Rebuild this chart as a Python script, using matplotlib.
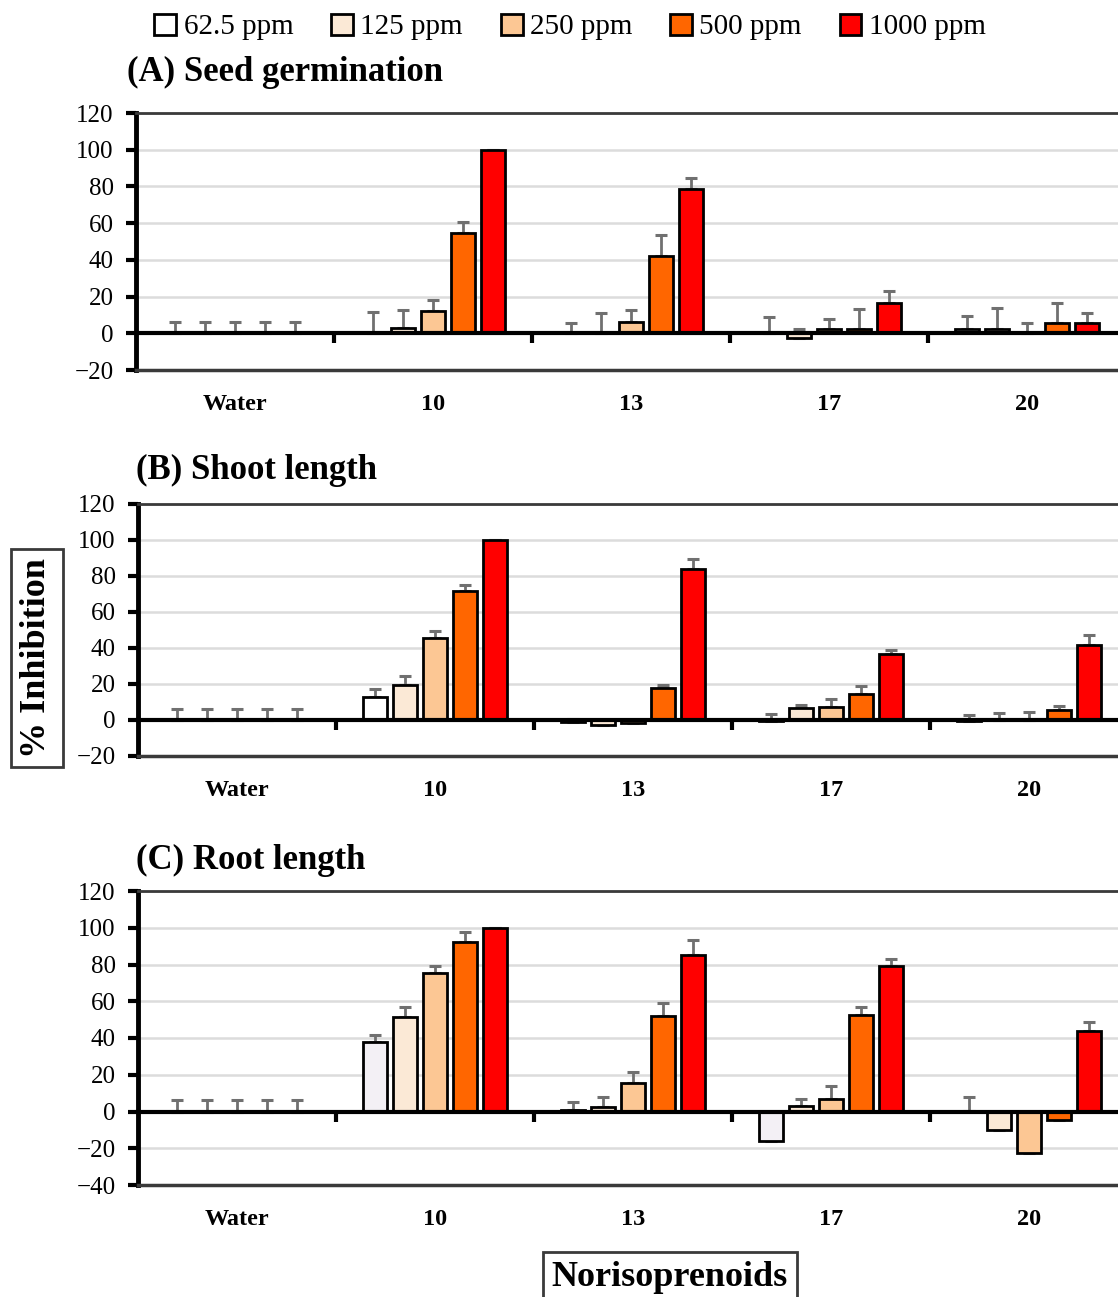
import numpy as np
import matplotlib.pyplot as plt
from matplotlib.transforms import blended_transform_factory

plt.rcParams['font.family'] = ['Liberation Serif', 'DejaVu Serif']

# data
groups = ['Water', '10', '13', '17', '20']
concs = ['62.5 ppm', '125 ppm', '250 ppm', '500 ppm', '1000 ppm']
colors = ['#ffffff', '#fbe9d6', '#fcc794', '#ff6600', '#ff0000']

# rows = concentration, cols = groups
seed_mean = [[0, 0, 0, 0, 2.4],
             [0, 3, 0, -2.5, 2.4],
             [0, 12, 6, 2.4, 0],
             [0, 54.5, 42.3, 2.4, 5.5],
             [0, 100, 78.8, 16.4, 5.5]]
seed_err = [[6, 11.5, 5.8, 8.6, 7],
            [6, 9.5, 11.3, 4.7, 11.6],
            [6, 6, 6.8, 5.5, 5.5],
            [6, 6, 11.3, 10.7, 11],
            [6, 0, 5.9, 6.4, 5.8]]

shoot_mean = [[0, 13, -1, -0.5, -0.8],
              [0, 19.5, -2.5, 6.4, 0],
              [0, 45.6, -1.8, 7.1, 0],
              [0, 71.6, 18, 14.6, 5.6],
              [0, 100, 83.7, 36.6, 41.7]]
shoot_err = [[6, 4, 1.5, 3.9, 3.5],
             [6, 5, 0.5, 2, 3.9],
             [6, 4, 0.5, 4.5, 4.5],
             [6, 3.2, 1.3, 4.1, 2.3],
             [6, 0, 5.8, 2.4, 5.4]]

root_mean = [[0, 38, 0.9, -16.1, 0.5],
             [0, 51.2, 2.6, 2.9, -10.2],
             [0, 75.3, 15.7, 6.9, -22.5],
             [0, 92.1, 51.9, 52.3, -4.8],
             [0, 100, 85.2, 79, 43.7]]
root_err = [[6, 3.9, 4, 5.1, 7.4],
            [6, 5.5, 5.1, 3.7, 5.8],
            [6, 3.7, 5.9, 6.8, 2.4],
            [6, 5.7, 7, 4.6, 2.8],
            [6, 0, 8.2, 3.8, 4.9]]

W, H = 1118, 1297
fig = plt.figure(figsize=(W / 100, H / 100), dpi=100)

def px_axes(left, top, right, bottom):
    return fig.add_axes([left / W, 1 - bottom / H, (right - left) / W, (bottom - top) / H])

panels = [
    (seed_mean, seed_err, (-20, 120), '(A) Seed germination', px_axes(136, 113, 1126, 370), (127, 72), '#ffffff'),
    (shoot_mean, shoot_err, (-20, 120), '(B) Shoot length', px_axes(138, 504, 1128, 756), (136, 470), '#ffffff'),
    (root_mean, root_err, (-40, 120), '(C) Root length', px_axes(138, 891, 1128, 1185), (136, 860), '#f3f0f5'),
]

x = np.arange(len(groups))
step = 0.152
bw = 0.12
handles = []
for mean, err, ylim, title, ax, (tx, ty), first_col in panels:
    for i in range(len(concs)):
        col = first_col if i == 0 else colors[i]
        m = np.array(mean[i])
        e = np.array(err[i])
        b = ax.bar(x + (i - 2) * step, m, bw, color=col, edgecolor='black',
                   linewidth=2, zorder=3, label=concs[i])
        ax.errorbar(x + (i - 2) * step, m, yerr=[np.zeros_like(e), e], fmt='none',
                    ecolor='#707070', elinewidth=2, capsize=4.5, capthick=2.2, zorder=2.5)
        if ax is panels[0][4]:
            handles.append(b)
    ax.set_xlim(-0.5, 4.5)
    ax.set_ylim(*ylim)
    ax.set_yticks(np.arange(ylim[0], 121, 20))
    ax.yaxis.grid(True, color='#dcdcdc', linewidth=1.8, zorder=0)
    ax.set_axisbelow(True)
    ax.spines['right'].set_visible(False)
    ax.spines['left'].set_linewidth(3.5)
    ax.spines['top'].set_linewidth(2)
    ax.spines['top'].set_color('#3a3a3a')
    ax.spines['bottom'].set_position(('data', 0))
    ax.spines['bottom'].set_linewidth(3)
    ax.spines['bottom'].set_zorder(4)
    ax.axhline(ylim[0], color='#3a3a3a', linewidth=2.5, clip_on=False, zorder=4)
    ax.set_xticks([])
    ax.set_xticks(x[:-1] + 0.5, minor=True)
    ax.tick_params(axis='x', which='minor', length=7, width=3, direction='out', labelbottom=False)
    ax.tick_params(axis='y', length=7, width=3, direction='out', labelsize=18, pad=9)
    trans = blended_transform_factory(ax.transData, ax.transAxes)
    for xi, g in zip(x, groups):
        ax.annotate(g, xy=(xi, 0), xycoords=trans, xytext=(0, -24.5),
                    textcoords='offset points', ha='center', va='center',
                    fontsize=17.5, fontweight='bold')
    fig.text(tx / W, 1 - ty / H, title, fontsize=25, fontweight='bold', ha='left', va='center')

fig.legend(handles=handles, labels=concs, loc='center', bbox_to_anchor=(570 / W, 1 - 27 / H),
           ncol=5, frameon=False, fontsize=21, handlelength=0.75, handleheight=0.75,
           handletextpad=0.25, columnspacing=1.3, borderaxespad=0)

fig.text(37 / W, 1 - 658 / H, '% Inhibition', rotation=90, fontsize=26, fontweight='bold',
         ha='center', va='center',
         bbox=dict(boxstyle='square,pad=0.25', facecolor='white', edgecolor='#3a3a3a', linewidth=2))
fig.text(670 / W, 1 - 1278 / H, 'Norisoprenoids', fontsize=26, fontweight='bold',
         ha='center', va='center',
         bbox=dict(boxstyle='square,pad=0.25', facecolor='white', edgecolor='#3a3a3a', linewidth=2))

fig.savefig('out.png', dpi=100)
